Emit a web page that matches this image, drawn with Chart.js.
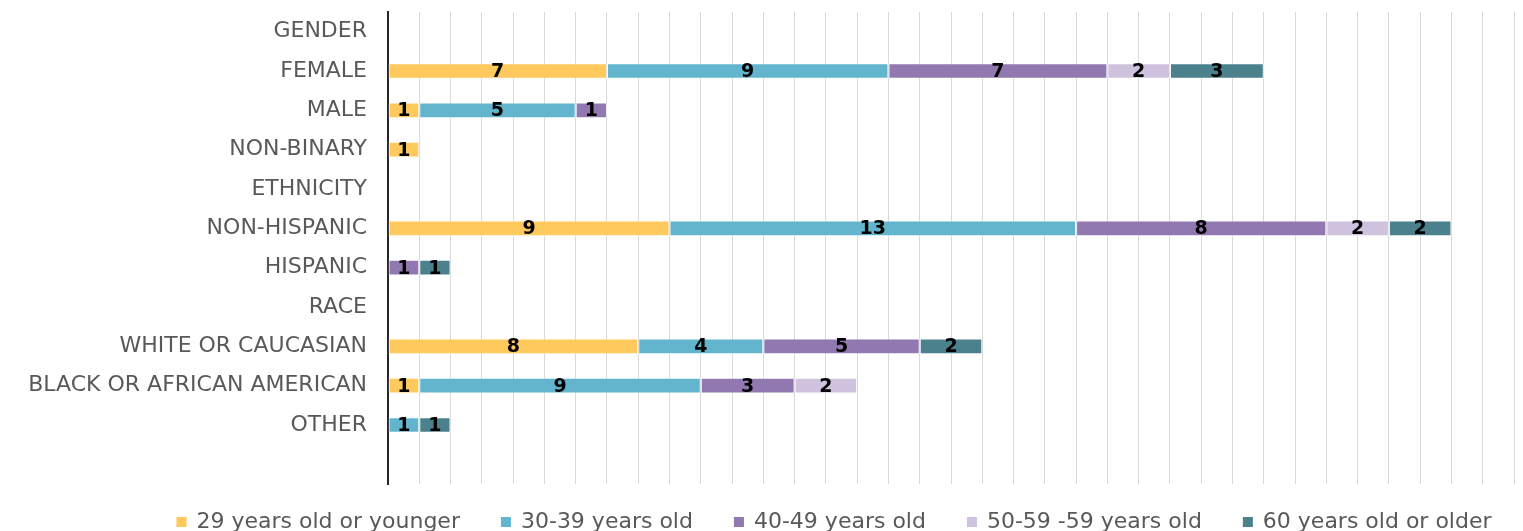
<!DOCTYPE html>
<html><head><meta charset="utf-8">
<script src="https://cdn.jsdelivr.net/npm/chart.js@4.4.0/dist/chart.umd.min.js"></script>
<style>html,body{margin:0;padding:0;background:#fff;}#wrap{width:1523px;height:531px;position:relative;}</style>
</head><body><div id="wrap"><canvas id="c"></canvas></div>
<script>
const categories = ['GENDER','FEMALE','MALE','NON-BINARY','ETHNICITY','NON-HISPANIC','HISPANIC','RACE','WHITE OR CAUCASIAN','BLACK OR AFRICAN AMERICAN','OTHER',''];
const seriesNames = ['29 years old or younger','30-39 years old','40-49 years old','50-59 -59 years old','60 years old or older'];
const age29orYounger = [null,7,1,1,null,9,null,null,8,1,null,null];
const age30to39      = [null,9,5,null,null,13,null,null,4,9,1,null];
const age40to49      = [null,7,1,null,null,8,1,null,5,3,null,null];
const age50to59      = [null,2,null,null,null,2,null,null,null,2,null,null];
const age60orOlder   = [null,3,null,null,null,2,1,null,2,null,1,null];
const axisMax = 36;

const seriesValues = [age29orYounger, age30to39, age40to49, age50to59, age60orOlder];
const colors = ['#FFC95E','#62B5CD','#9278B0','#CEC2DF','#4A818D'];

const labelPlugin = {
  id: 'segLabels',
  afterDatasetsDraw(chart) {
    const ctx = chart.ctx;
    ctx.save();
    ctx.font = 'bold 19px "DejaVu Sans"';
    ctx.fillStyle = '#000';
    ctx.textAlign = 'center';
    ctx.textBaseline = 'middle';
    chart.data.datasets.forEach((ds, i) => {
      const meta = chart.getDatasetMeta(i);
      meta.data.forEach((el, j) => {
        const v = ds.data[j];
        if (v == null || v === 0) return;
        ctx.fillText(String(v), (el.x + el.base) / 2, el.y + 1);
      });
    });
    ctx.restore();
  }
};

const legendPlugin = {
  id: 'bottomLegend',
  afterDraw(chart) {
    const ctx = chart.ctx;
    ctx.save();
    ctx.font = '22px "DejaVu Sans"';
    ctx.textBaseline = 'middle';
    ctx.textAlign = 'left';
    const box = 10, gap = 10, spacing = 41;
    const items = chart.data.datasets.map(ds => ({
      text: ds.label, color: ds.backgroundColor, w: box + gap + ctx.measureText(ds.label).width
    }));
    const total = items.reduce((a, it) => a + it.w, 0) + spacing * (items.length - 1);
    let x = 834 - total / 2;
    const y = 521;
    items.forEach(it => {
      ctx.fillStyle = it.color;
      ctx.fillRect(x, y - box / 2 + 1, box, box);
      ctx.fillStyle = '#595959';
      ctx.fillText(it.text, x + box + gap, y + 1);
      x += it.w + spacing;
    });
    ctx.restore();
  }
};

new Chart(document.getElementById('c'), {
  type: 'bar',
  data: {
    labels: categories,
    datasets: seriesNames.map((name, i) => ({
      label: name,
      data: seriesValues[i],
      backgroundColor: colors[i],
      borderColor: 'rgba(255,255,255,0.45)',
      borderWidth: 1,
      borderSkipped: false,
      barPercentage: 0.4,
      categoryPercentage: 1.0
    }))
  },
  options: {
    indexAxis: 'y',
    responsive: true,
    maintainAspectRatio: false,
    animation: false,
    devicePixelRatio: 1,
    layout: { padding: { top: 12, right: 9, bottom: 47, left: 0 } },
    plugins: { legend: { display: false }, tooltip: { enabled: false } },
    scales: {
      x: {
        stacked: true, min: 0, max: axisMax,
        ticks: { display: false, stepSize: 1 },
        grid: { color: '#d9d9d9', lineWidth: 1, drawTicks: false },
        border: { display: false },
        afterFit: s => { s.height = 0; s.paddingLeft = 0; s.paddingRight = 0; }
      },
      y: {
        stacked: true,
        grid: { display: false, drawTicks: false },
        border: { display: true, color: '#262626', width: 2 },
        ticks: { color: '#595959', font: { family: 'DejaVu Sans', size: 22 }, padding: 21, autoSkip: false },
        afterFit: s => { s.width = 388; s.paddingTop = 0; s.paddingBottom = 0; }
      }
    }
  },
  plugins: [labelPlugin, legendPlugin]
});
</script></body></html>
